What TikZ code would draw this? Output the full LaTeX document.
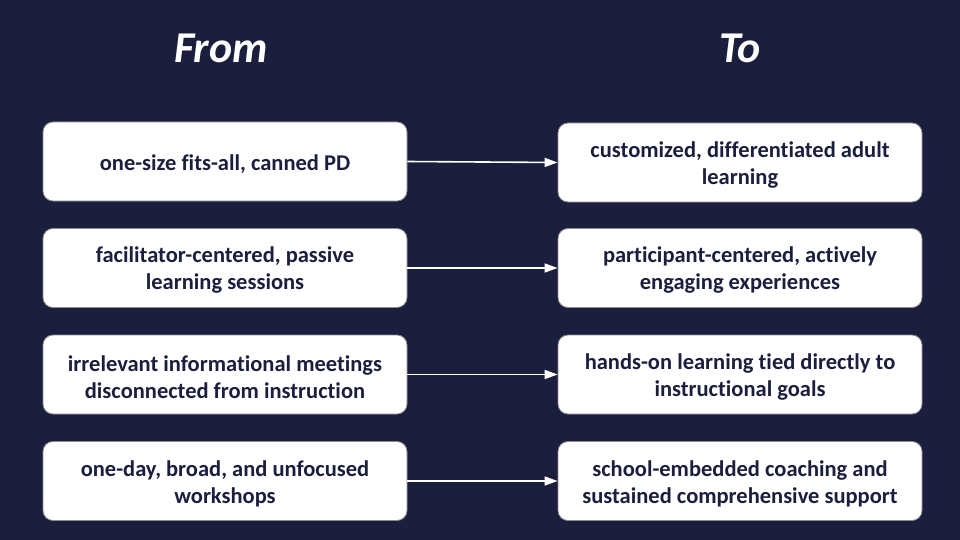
\documentclass[tikz,border=0pt]{standalone}
\usepackage{fontspec}
\setmainfont[Ligatures=NoCommon]{Carlito}
\usetikzlibrary{arrows.meta}
\definecolor{bg}{HTML}{1B1E3C}
\definecolor{edge}{HTML}{8A8A8A}
\begin{document}
\begin{tikzpicture}[x=1pt,y=-1pt,
  box/.style={draw=edge,line width=0.8pt,fill=white,rounded corners=10pt,minimum width=364pt,minimum height=79pt},
  txt/.style={align=center,font=\fontsize{22.5}{27}\selectfont\bfseries,text=bg,yshift=-2.5pt},
  title/.style={text=white,font=\fontsize{44}{50}\selectfont\bfseries\itshape},
  conn/.style={draw=white,line width=1.6pt,-{Triangle[length=13pt,width=9pt]}}]
\fill[bg] (0,0) rectangle (960,540);
\useasboundingbox (0,0) rectangle (960,540);
\node[title] (from) at (221,48) {From};
\node[title] (to) at (740,48) {To};
\node[box] (l1) at (225,161.5) {};
\node[box] (r1) at (740,162.5) {};
\node[box] (l2) at (225,268) {};
\node[box] (r2) at (740,268) {};
\node[box] (l3) at (225,374.5) {};
\node[box] (r3) at (740,374.5) {};
\node[box] (l4) at (225,481) {};
\node[box] (r4) at (740,481) {};
\node[txt] (l1t) at (l1.center) {one-size fits-all, canned PD};
\node[txt] (r1t) at (r1.center) {customized, differentiated adult\\learning};
\node[txt] (l2t) at (l2.center) {facilitator-centered, passive\\learning sessions};
\node[txt] (r2t) at (r2.center) {participant-centered, actively\\engaging experiences};
\node[txt] (l3t) at (l3.center) {irrelevant informational meetings\\disconnected from instruction};
\node[txt] (r3t) at (r3.center) {hands-on learning tied directly to\\instructional goals};
\node[txt] (l4t) at (l4.center) {one-day, broad, and unfocused\\workshops};
\node[txt] (r4t) at (r4.center) {school-embedded coaching and\\sustained comprehensive support};
\draw[conn] (l1.east) -- (r1.west);
\draw[conn] (l2.east) -- (r2.west);
\draw[conn] (l3.east) -- (r3.west);
\draw[conn] (l4.east) -- (r4.west);
\end{tikzpicture}
\end{document}
